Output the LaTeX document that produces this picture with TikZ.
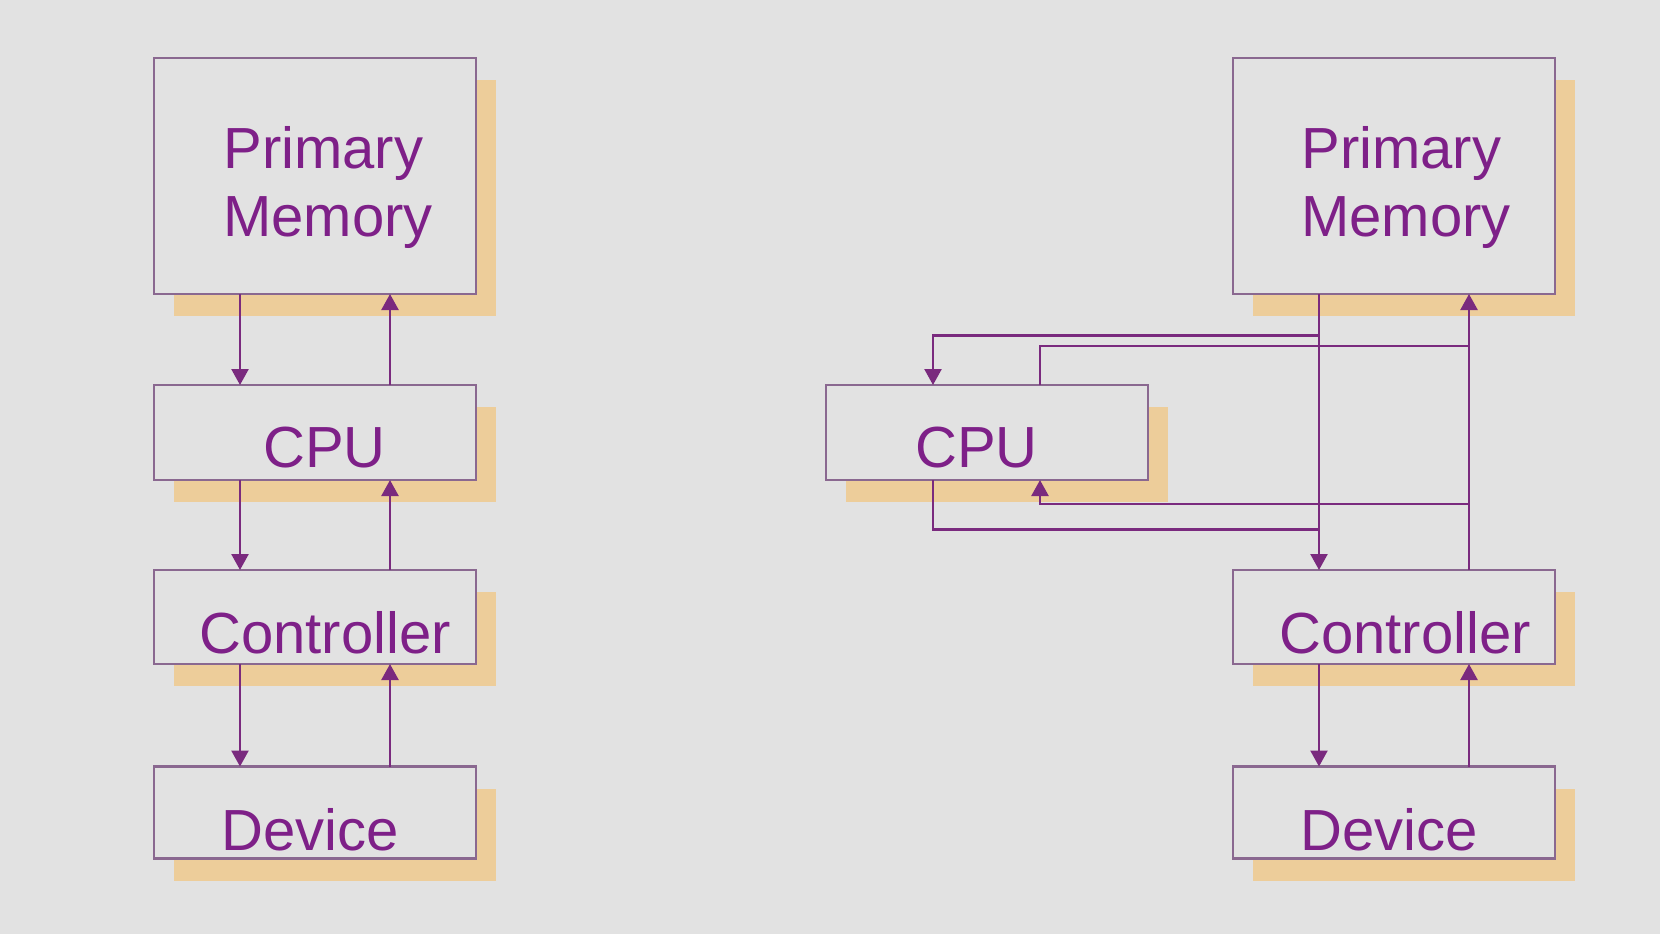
\documentclass[tikz,border=0pt]{standalone}
\usepackage{fontspec}
\setmainfont{Liberation Sans}
\usetikzlibrary{arrows.meta,positioning,shadows}

\definecolor{slidegray}{HTML}{E2E2E2}
\definecolor{boxline}{HTML}{8A6890}
\definecolor{wire}{HTML}{7A2A7E}
\definecolor{ink}{HTML}{7E2088}
\definecolor{tan}{HTML}{EDCD9A}

\tikzset{
    unit/.style={draw=boxline, line width=1.2pt, fill=slidegray, inner sep=0pt, outer sep=0pt,
        minimum width=161pt,
        drop shadow={shadow xshift=10pt, shadow yshift=-11pt, fill=tan, opacity=1}},
    lbl/.style={anchor=base west, inner sep=0pt, text=ink, align=left,
        font=\fontsize{29}{34}\selectfont},
    wire/.style={draw=wire, line width=1.2pt},
    arr/.style={wire, -{Triangle[length=8pt,width=8.5pt]}}
}

\begin{document}
\begin{tikzpicture}[x=0.5pt,y=-0.5pt]
                    \fill[slidegray] (0,0) rectangle (1660,934);
                    \useasboundingbox (0,0) rectangle (1660,934);

                    % left: programmed I/O through the CPU
                    \node[unit, minimum height=118pt] (memL) at (315,176) {};
                    \node[unit, minimum height=47.5pt] (cpuL) at (315,432.5) {};
                    \node[unit, minimum height=47pt] (ctlL) at (315,617) {};
                    \node[unit, minimum height=46pt] (devL) at (315,812.5) {};

                    \node[lbl] (memL-t) at (223,236) {Primary\\Memory};
                    \node[lbl] (cpuL-t) at (263,467) {CPU};
                    \node[lbl] (ctlL-t) at (199,653) {Controller};
                    \node[lbl] (devL-t) at (221,850) {Device};

                    \draw[arr] ([xshift=-37.5pt]memL.south) -- ([xshift=-37.5pt]cpuL.north);
                    \draw[arr] ([xshift=37.5pt]cpuL.north) -- ([xshift=37.5pt]memL.south);
                    \draw[arr] ([xshift=-37.5pt]cpuL.south) -- ([xshift=-37.5pt]ctlL.north);
                    \draw[arr] ([xshift=37.5pt]ctlL.north) -- ([xshift=37.5pt]cpuL.south);
                    \draw[arr] ([xshift=-37.5pt]ctlL.south) -- ([xshift=-37.5pt]devL.north);
                    \draw[arr] ([xshift=37.5pt]devL.north) -- ([xshift=37.5pt]ctlL.south);

                    % right: controller on the memory path
                    \node[unit, minimum height=118pt] (memR) at (1394,176) {};
                    \node[unit, minimum height=47.5pt] (cpuR) at (987,432.5) {};
                    \node[unit, minimum height=47pt] (ctlR) at (1394,617) {};
                    \node[unit, minimum height=46pt] (devR) at (1394,812.5) {};

                    \node[lbl] (memR-t) at (1301,236) {Primary\\Memory};
                    \node[lbl] (cpuR-t) at (915,467) {CPU};
                    \node[lbl] (ctlR-t) at (1279,653) {Controller};
                    \node[lbl] (devR-t) at (1300,850) {Device};

                    \draw[arr] ([xshift=-37.5pt]memR.south) -- ([xshift=-37.5pt]ctlR.north);
                    \draw[arr] ([xshift=37.5pt]ctlR.north) -- ([xshift=37.5pt]memR.south);
                    \draw[arr] ([xshift=-37.5pt,yshift=-20.8pt]memR.south) -| ([xshift=-27pt]cpuR.north);
                    \draw[wire] ([xshift=26.5pt]cpuR.north) |- ([xshift=37.5pt,yshift=-26.1pt]memR.south);
                    \draw[arr] ([xshift=37.5pt,yshift=33pt]ctlR.north) -| ([xshift=26.5pt]cpuR.south);
                    \draw[wire] ([xshift=-27pt]cpuR.south) |- ([xshift=-37.5pt,yshift=20.3pt]ctlR.north);

                    \draw[arr] ([xshift=-37.5pt]ctlR.south) -- ([xshift=-37.5pt]devR.north);
                    \draw[arr] ([xshift=37.5pt]devR.north) -- ([xshift=37.5pt]ctlR.south);
                \end{tikzpicture}
\end{document}
